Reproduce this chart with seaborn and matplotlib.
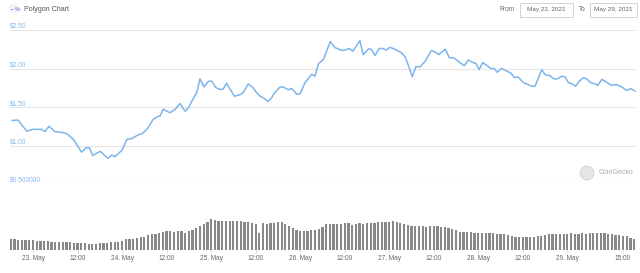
import numpy as np
import pandas as pd
import matplotlib
matplotlib.use("Agg")
import matplotlib.pyplot as plt
from matplotlib.patches import Rectangle, Ellipse
import seaborn as sns

# ---- data (hours measured from 23 May 2021 00:00) ----
price_hours = [-5.7, -4.0, -1.7, 0.1, 2.3, 3.2, 4.3, 5.9, 7.7, 9.1,
               10.9, 13.1, 14.3, 15.2, 16.1, 18.1, 20.2, 21.2, 22.1, 23.9,
               24.3, 25.3, 26.6, 28.4, 29.3, 30.7, 32.4, 33.8, 34.2, 35.1,
               36.9, 38.3, 39.6, 41.0, 41.9, 42.8, 44.1, 45.0, 46.1, 47.3,
               48.2, 49.3, 50.4, 51.2, 52.2, 53.1, 54.3, 55.8, 56.6, 58.0,
               59.1, 60.3, 61.2, 62.1, 63.3, 64.3, 65.2, 66.6, 67.4, 68.8,
               69.7, 71.1, 72.0, 73.3, 74.7, 75.1, 76.0, 76.9, 78.3, 80.1,
               81.4, 83.2, 84.1, 85.3, 86.2, 88.1, 89.0, 90.4, 91.1, 92.2,
               93.3, 94.3, 95.2, 96.2, 97.1, 98.5, 99.4, 100.3, 101.4, 102.2,
               103.2, 104.3, 105.7, 107.3, 108.2, 109.3, 111.1, 112.2, 113.3, 114.6,
               116.2, 117.3, 118.7, 119.4, 120.2, 121.2, 122.3, 123.4, 124.3, 125.1,
               126.2, 127.5, 128.8, 129.7, 130.7, 132.2, 133.5, 134.4, 135.3, 137.1,
               138.0, 139.2, 140.4, 141.2, 142.5, 143.4, 144.3, 145.3, 146.2, 147.2,
               148.3, 149.2, 150.3, 151.5, 152.2, 153.3, 154.5, 155.7, 157.3, 158.7,
               160.0, 161.1, 162.3]
price_usd = [1.325, 1.33, 1.186, 1.21, 1.21, 1.18, 1.25, 1.18, 1.17, 1.155,
             1.08, 0.913, 0.97, 0.97, 0.87, 0.925, 0.835, 0.875, 0.855, 0.935,
             0.97, 1.08, 1.09, 1.14, 1.15, 1.21, 1.34, 1.38, 1.38, 1.47,
             1.425, 1.47, 1.545, 1.445, 1.49, 1.575, 1.685, 1.865, 1.76, 1.835,
             1.835, 1.75, 1.73, 1.73, 1.81, 1.73, 1.64, 1.66, 1.685, 1.80,
             1.76, 1.685, 1.64, 1.62, 1.57, 1.62, 1.69, 1.76, 1.76, 1.725,
             1.74, 1.665, 1.675, 1.815, 1.90, 1.925, 1.90, 2.06, 2.12, 2.35,
             2.27, 2.235, 2.24, 2.26, 2.225, 2.36, 2.18, 2.255, 2.25, 2.17,
             2.26, 2.26, 2.24, 2.275, 2.26, 2.225, 2.20, 2.15, 2.01, 1.895,
             2.025, 2.02, 2.095, 2.23, 2.22, 2.18, 2.25, 2.14, 2.14, 2.095,
             2.035, 2.11, 2.075, 2.065, 1.985, 2.075, 2.04, 2.0, 2.0, 1.95,
             2.0, 1.97, 1.94, 1.88, 1.89, 1.815, 1.79, 1.77, 1.77, 1.985,
             1.92, 1.91, 1.865, 1.865, 1.90, 1.89, 1.815, 1.80, 1.77, 1.835,
             1.88, 1.865, 1.815, 1.80, 1.78, 1.86, 1.825, 1.785, 1.79, 1.76,
             1.715, 1.74, 1.705]

volume_hours = list(range(-6, 163))
# relative volume
volume = [10.7, 10.7, 10.5, 10.3, 10.2, 10.0,
          9.8, 9.5, 9.3, 9.0, 8.7, 8.5, 8.3, 8.2, 8.0, 7.8, 7.7, 7.5,
          7.2, 7.0, 6.8, 6.5, 6.3, 6.5, 6.8, 7.0, 7.3, 7.6, 8.0, 8.3,
          8.7, 10.7, 11.0, 11.5, 12.0, 12.7, 13.5, 15.0, 15.7, 16.5, 17.5, 18.0,
          18.7, 18.7, 18.5, 18.7, 19.5, 17.3, 19.3, 20.0, 22.0, 24.0, 26.0, 28.5,
          30.7, 30.5, 29.3, 29.0, 29.0, 29.3, 29.0, 28.7, 28.7, 28.0, 28.3, 27.5,
          26.5, 16.7, 26.7, 26.5, 26.7, 27.0, 27.7, 28.0, 26.0, 24.0, 22.0, 20.3,
          19.0, 19.0, 19.5, 20.0, 20.3, 21.0, 22.7, 25.7, 26.0, 26.0, 26.0, 26.5,
          27.0, 27.0, 25.5, 26.0, 26.7, 26.0, 27.0, 27.3, 27.0, 27.7, 28.0, 28.0,
          28.3, 28.7, 27.7, 27.0, 26.0, 25.0, 24.0, 24.3, 23.7, 23.7, 23.3, 24.0,
          24.0, 23.7, 23.5, 23.0, 22.5, 21.3, 20.0, 18.5, 18.0, 18.0, 17.7, 17.3,
          17.3, 17.0, 17.3, 17.0, 16.7, 16.3, 16.0, 15.7, 15.0, 14.0, 13.3, 13.3,
          13.0, 13.3, 12.7, 13.0, 13.7, 14.3, 15.3, 15.7, 16.0, 16.0, 16.0, 16.0,
          16.3, 16.7, 16.3, 16.3, 16.7, 16.3, 16.7, 17.0, 17.0, 16.7, 16.7, 16.3,
          16.3, 15.3, 15.0, 14.3, 13.7, 12.3, 11.3]

y_ticks = [0.5, 1.0, 1.5, 2.0, 2.5]
y_labels = ["$0.500000", "$1.00", "$1.50", "$2.00", "$2.50"]
x_ticks = [0, 12, 24, 36, 48, 60, 72, 84, 96, 108, 120, 132, 144, 159]
x_labels = ["23. May", "12:00", "24. May", "12:00", "25. May", "12:00", "26. May",
            "12:00", "27. May", "12:00", "28. May", "12:00", "29. May", "15:00"]
title = "Polygon Chart"
date_from = "May 22, 2021"
date_to = "May 29, 2021"

price_df = pd.DataFrame({"hour": price_hours, "price": price_usd})
vol_df = pd.DataFrame({"hour": volume_hours, "volume": volume})

# ---- style ----
sns.set_theme(style="white")
plt.rcParams["font.family"] = ["Liberation Sans", "DejaVu Sans"]

W, H = 640, 273
fig = plt.figure(figsize=(W / 100, H / 100), dpi=100)
fig.patch.set_facecolor("white")

XMIN, XMAX = -6.2, 162.5
LINE_BLUE = "#7cb5ec"
LABEL_BLUE = "#82b8ec"

def px(x0, y0, x1, y1):
    return [x0 / W, 1 - y1 / H, (x1 - x0) / W, (y1 - y0) / H]

# price chart
ax = fig.add_axes(px(10, 30, 636, 184))
sns.lineplot(data=price_df, x="hour", y="price", ax=ax, color=LINE_BLUE,
             linewidth=1.1, estimator=None, sort=False)
ax.set_xlim(XMIN, XMAX)
ax.set_ylim(0.5, 2.5)
ax.set_yticks(y_ticks)
ax.set_yticklabels([])
ax.set_xticks([])
ax.tick_params(left=False, bottom=False, length=0)
ax.grid(axis="y", color="#e6e6e6", linewidth=0.8)
ax.set_axisbelow(True)
for s in ax.spines.values():
    s.set_visible(False)
ax.set_xlabel("")
ax.set_ylabel("")
ax.patch.set_alpha(0)
for v, lab in zip(y_ticks, y_labels):
    ax.text(0.0, v, lab, transform=ax.get_yaxis_transform(), ha="left",
            va="bottom", fontsize=4.8, color=LABEL_BLUE)

# volume chart
axv = fig.add_axes(px(10, 200, 636, 250))
sns.barplot(data=vol_df, x="hour", y="volume", ax=axv, native_scale=True,
            color="#888888", width=0.6, saturation=1, edgecolor="none")
axv.set_xlim(XMIN, XMAX)
axv.set_ylim(0, 50)
axv.set_yticks([])
axv.set_xticks(x_ticks)
axv.set_xticklabels(x_labels, fontsize=4.7, color="#666666")
axv.tick_params(axis="x", bottom=True, length=2.2, width=0.6, color="#ccd6eb", pad=1.5)
for s in axv.spines.values():
    s.set_visible(False)
axv.set_xlabel("")
axv.set_ylabel("")
axv.patch.set_alpha(0)

# header
fig.patches.append(Ellipse((14 / W, 1 - 9 / H), 11 / W, 11 / H, transform=fig.transFigure,
                           facecolor="#f4f4f8", edgecolor="none"))
fig.text(10.5 / W, 1 - 9.5 / H, "-", fontsize=5.5, color="#2f6fd6", va="center", ha="left",
         fontweight="bold")
fig.text(14.5 / W, 1 - 9.5 / H, "%", fontsize=4.4, color="#8a5cd6", va="center", ha="left")
fig.text(24 / W, 1 - 9.5 / H, title, fontsize=5.1, color="#555555", va="center", ha="left")

fig.text(500 / W, 1 - 9.5 / H, "From", fontsize=4.7, color="#666666", va="center", ha="left")
fig.patches.append(Rectangle((520 / W, 1 - 17 / H), 53 / W, 14 / H, transform=fig.transFigure,
                             facecolor="white", edgecolor="#cccccc", linewidth=0.6))
fig.text(546.5 / W, 1 - 9.5 / H, date_from, fontsize=4.6, color="#666666", va="center", ha="center")
fig.text(579 / W, 1 - 9.5 / H, "To", fontsize=4.7, color="#666666", va="center", ha="left")
fig.patches.append(Rectangle((590 / W, 1 - 17 / H), 47 / W, 14 / H, transform=fig.transFigure,
                             facecolor="white", edgecolor="#cccccc", linewidth=0.6))
fig.text(613.5 / W, 1 - 9.5 / H, date_to, fontsize=4.6, color="#666666", va="center", ha="center")

# watermark
fig.patches.append(Ellipse((587 / W, 1 - 173 / H), 14 / W, 14 / H, transform=fig.transFigure,
                           facecolor="#e6e6e6", edgecolor="#d4d4d4", linewidth=0.6))
fig.text(598.5 / W, 1 - 173 / H, "CoinGecko", fontsize=5, color="#aaaaaa", va="center", ha="left")

fig.savefig("out.png", dpi=100, facecolor="white")
